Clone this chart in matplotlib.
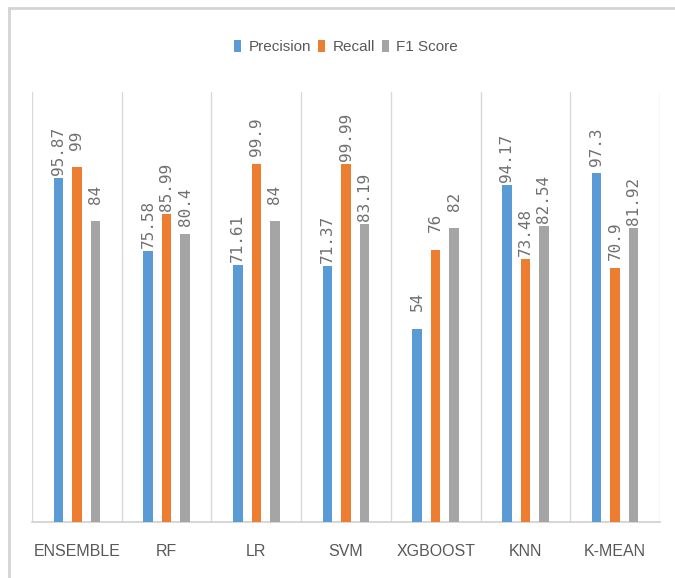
import matplotlib
matplotlib.use("Agg")
import matplotlib.pyplot as plt
from matplotlib.lines import Line2D
from matplotlib import font_manager
import numpy as np

models = ["ENSEMBLE", "RF", "LR", "SVM", "XGBOOST", "KNN", "K-MEAN"]
precision = [95.87, 75.58, 71.61, 71.37, 54, 94.17, 97.3]
recall = [99, 85.99, 99.9, 99.99, 76, 73.48, 70.9]
f1_score = [84, 80.4, 84, 83.19, 82, 82.54, 81.92]
precision_labels = ["95.87", "75.58", "71.61", "71.37", "54", "94.17", "97.3"]
recall_labels = ["99", "85.99", "99.9", "99.99", "76", "73.48", "70.9"]
f1_labels = ["84", "80.4", "84", "83.19", "82", "82.54", "81.92"]
series_names = ["Precision", "Recall", "F1 Score"]
colors = ["#5B9BD5", "#ED7D31", "#A5A5A5"]

available = {f.name for f in font_manager.fontManager.ttflist}
narrow = "Liberation Sans Narrow" if "Liberation Sans Narrow" in available else "Liberation Sans"

W, H = 675, 578
fig = plt.figure(figsize=(W / 100, H / 100), dpi=100)
ax = fig.add_axes([32 / W, (H - 522) / H, (660 - 32) / W, (522 - 92) / H])

x = np.arange(len(models))
width = 0.106
offsets = [-0.206, 0.0, 0.206]
all_vals = [precision, recall, f1_score]
all_labels = [precision_labels, recall_labels, f1_labels]

for vals, labs, off, col, name in zip(all_vals, all_labels, offsets, colors, series_names):
    bars = ax.bar(x + off, vals, width=width, color=col, label=name, zorder=3)
    for b, lab in zip(bars, labs):
        ax.annotate(lab, (b.get_x() + b.get_width() / 2, b.get_height()),
                    xytext=(0, 19.5), textcoords="offset points",
                    rotation=90, ha="center", va="center",
                    fontsize=11.5, color="#707070", family="DejaVu Sans Mono")

ax.set_xlim(-0.5, len(models) - 0.5)
ax.set_ylim(0, 120)

# category separators
for b in np.arange(-0.5, len(models), 1.0):
    ax.axvline(b, color="#d9d9d9", lw=1.0, zorder=1)

for s in ["top", "right", "left"]:
    ax.spines[s].set_visible(False)
ax.spines["bottom"].set_color("#d0d0d0")
ax.spines["bottom"].set_linewidth(1.2)
ax.set_yticks([])
ax.set_xticks(x)
ax.set_xticklabels(models, fontsize=11.5, color="#595959", family=narrow)
ax.tick_params(axis="x", length=0, pad=16)

leg = fig.legend(loc="center", bbox_to_anchor=(346 / W, (H - 47) / H), ncol=3,
                 frameon=False, handlelength=0.45, handleheight=0.9,
                 handletextpad=0.5, columnspacing=0.45,
                 prop={"family": narrow, "size": 11})
for t in leg.get_texts():
    t.set_color("#595959")

# outer frame
fig.add_artist(Line2D([9 / W, 1.0], [(H - 8) / H, (H - 8) / H], color="#d4d4d4", lw=2.0))
fig.add_artist(Line2D([9 / W, 9 / W], [0, (H - 8) / H], color="#d4d4d4", lw=2.0))

fig.savefig("out.png", dpi=100)
